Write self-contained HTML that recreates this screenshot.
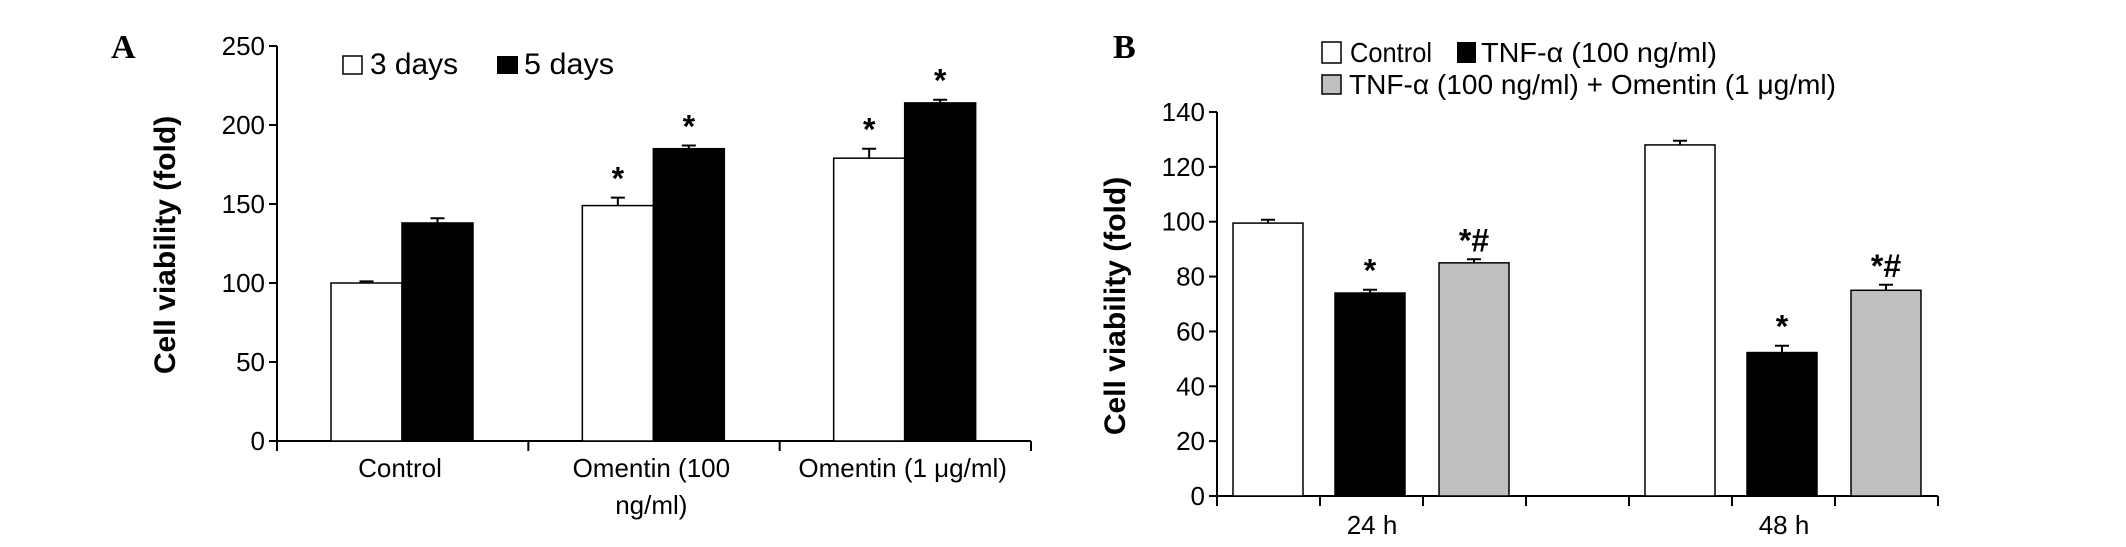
<!DOCTYPE html>
<html><head><meta charset="utf-8"><style>
body{margin:0;background:#fff;}
svg{display:block;font-family:"Liberation Sans",sans-serif;}
</style></head><body>
<svg id="fig" width="2126" height="547" viewBox="0 0 2126 547">
<text x="111" y="58" font-family="Liberation Serif" font-weight="bold" font-size="34">A</text>
<text x="1113" y="58" font-family="Liberation Serif" font-weight="bold" font-size="34">B</text>
<text transform="translate(175,245) rotate(-90)" text-anchor="middle" font-weight="bold" font-size="30">Cell viability (fold)</text>
<text transform="translate(1125,306) rotate(-90)" text-anchor="middle" font-weight="bold" font-size="30">Cell viability (fold)</text>
<g>
<rect x="343" y="56" width="19" height="18" fill="#fff" stroke="#000" stroke-width="1.5"/>
<text x="370" y="74" font-size="30" textLength="88" lengthAdjust="spacingAndGlyphs">3 days</text>
<rect x="497" y="56" width="21" height="18" fill="#000"/>
<text x="524" y="74" font-size="30" textLength="90" lengthAdjust="spacingAndGlyphs">5 days</text>
</g>
<g>
<rect x="1322" y="42" width="19" height="21" fill="#fff" stroke="#000" stroke-width="1.5"/>
<text x="1350" y="62" font-size="28" textLength="82" lengthAdjust="spacingAndGlyphs">Control</text>
<rect x="1457" y="42" width="19" height="21" fill="#000"/>
<text x="1481" y="62" font-size="28" textLength="236" lengthAdjust="spacingAndGlyphs">TNF-α (100 ng/ml)</text>
<rect x="1322" y="75" width="19" height="19" fill="#bfbfbf" stroke="#000" stroke-width="1.5"/>
<text x="1349" y="94" font-size="28" textLength="487" lengthAdjust="spacingAndGlyphs">TNF-α (100 ng/ml) + Omentin (1 μg/ml)</text>
</g>
<g id="ga"></g><g id="gb"></g>
</svg>
<script>
const NS="http://www.w3.org/2000/svg";
// Panel A data
const catsA=["Control","Omentin (100|ng/ml)","Omentin (1 μg/ml)"];
const days3=[100,149,179];
const days3Err=[1,5,6];
const days5=[138,185,214];
const days5Err=[3,2,2];
const sigA3=["","*","*"];
const sigA5=["","*","*"];
const ticksA=[0,50,100,150,200,250];
// Panel B data
const catsB=["24 h","48 h"];
const ctrl=[99.5,128];
const ctrlErr=[1.2,1.5];
const tnf=[74,52.3];
const tnfErr=[1.2,2.5];
const tnfOm=[85,75];
const tnfOmErr=[1.3,2];
const sigTnf=["*","*"];
const sigOm=["*#","*#"];
const ticksB=[0,20,40,60,80,100,120,140];

function mk(tag,attrs,parent){const e=document.createElementNS(NS,tag);for(const k in attrs)e.setAttribute(k,attrs[k]);parent.appendChild(e);return e;}
function txt(parent,x,y,s,size,anchor){const t=mk('text',{x:x,y:y,'font-size':size,'text-anchor':anchor||'middle'},parent);t.textContent=s;return t;}

function bar(g,x,w,val,err,fill,y,name,sig){
  const r=mk('rect',{x:x,y:y(val),width:w,height:y(0)-y(val),fill:fill,stroke:'#000','stroke-width':1.5},g);
  
  
  const cx=x+w/2,ye=y(val+err);
  const e=mk('path',{d:`M${cx},${y(val)}V${ye}M${cx-7},${ye}H${cx+7}`,stroke:'#000','stroke-width':2,fill:'none'},g);
  
  
  if(sig){const t=txt(g,cx,ye-8,sig,32);t.setAttribute('font-weight','bold');
    
    }
}

// Panel A
(function(){
  const g=document.getElementById('ga');
  const x0=277,x1=1031,y0=441,yTop=46;
  const y=v=>y0-(v/250)*(y0-yTop);
  const gw=(x1-x0)/catsA.length;
  const ax=mk('path',{d:`M${x0},${yTop}V${y0+8}M${x0},${y0}H${x1}`,stroke:'#000','stroke-width':2,fill:'none'},g);
  
  
  ticksA.forEach(v=>{
    const tk=mk('path',{d:`M${x0-8},${y(v)}H${x0}`,stroke:'#000','stroke-width':2},g);
    
    
    const t=txt(g,x0-12,y(v)+9,String(v),26,'end');
    
    
  });
  for(let i=0;i<=catsA.length;i++){
    const tk=mk('path',{d:`M${x0+i*gw},${y0}V${y0+10}`,stroke:'#000','stroke-width':2},g);
    
    
  }
  catsA.forEach((c,i)=>{
    const gx=x0+i*gw, bw=71;
    bar(g,gx+54,bw,days3[i],days3Err[i],'#fff',y,'bar-3days-'+i,sigA3[i]);
    bar(g,gx+54+bw,bw,days5[i],days5Err[i],'#000',y,'bar-5days-'+i,sigA5[i]);
    c.split('|').forEach((line,j)=>{
      const t=txt(g,gx+54+bw-2,y0+36+j*37,line,26);
      
      
    });
  });
})();

// Panel B
(function(){
  const g=document.getElementById('gb');
  const x0=1217,step=103,x1=x0+7*step,y0=496,yTop=112;
  const y=v=>y0-(v/140)*(y0-yTop);
  const ax=mk('path',{d:`M${x0},${yTop}V${y0+8}M${x0},${y0}H${x1}`,stroke:'#000','stroke-width':2,fill:'none'},g);
  
  
  ticksB.forEach(v=>{
    const tk=mk('path',{d:`M${x0-8},${y(v)}H${x0}`,stroke:'#000','stroke-width':2},g);
    
    
    const t=txt(g,x0-12,y(v)+9,String(v),26,'end');
    
    
  });
  for(let i=0;i<=7;i++){
    const tk=mk('path',{d:`M${x0+i*step},${y0}V${y0+10}`,stroke:'#000','stroke-width':2},g);
    
    
  }
  catsB.forEach((c,i)=>{
    const gx=x0+i*4*step, bw=70;
    bar(g,gx+16,bw,ctrl[i],ctrlErr[i],'#fff',y,'bar-control-'+i,'');
    bar(g,gx+step+15,bw,tnf[i],tnfErr[i],'#000',y,'bar-tnf-'+i,sigTnf[i]);
    bar(g,gx+2*step+16,bw,tnfOm[i],tnfOmErr[i],'#bfbfbf',y,'bar-tnf-omentin-'+i,sigOm[i]);
    const t=txt(g,gx+step+52,y0+38,c,26);
    
    
  });
})();
</script>
</body></html>
